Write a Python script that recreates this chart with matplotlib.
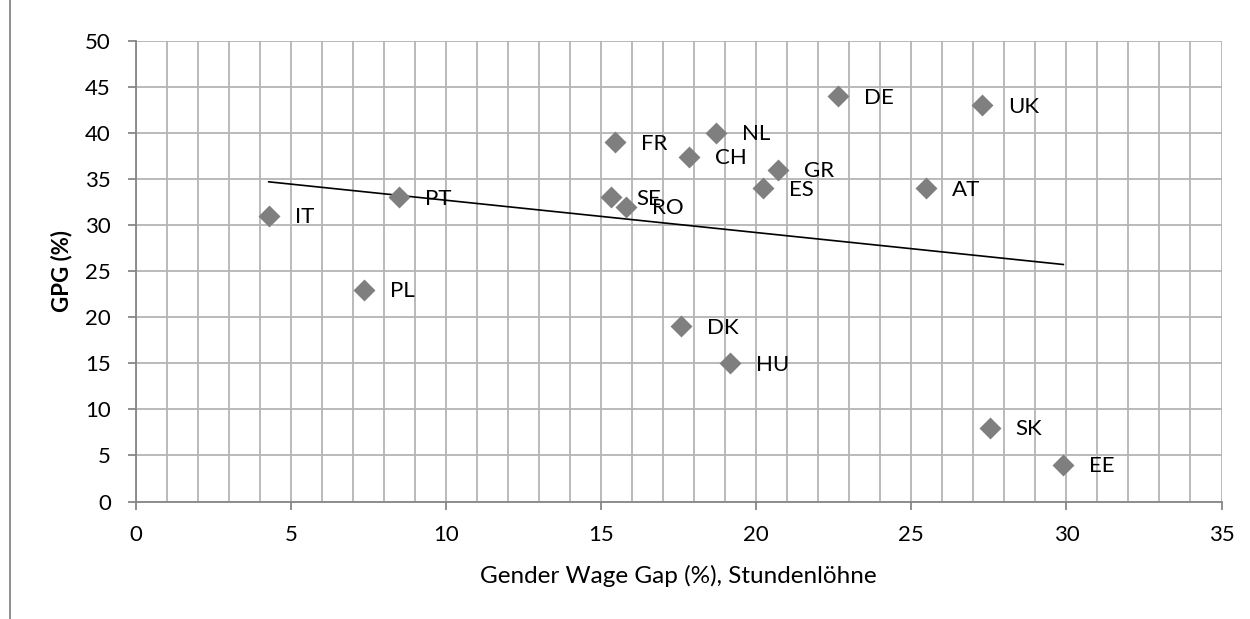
import numpy as np
import matplotlib
matplotlib.use("Agg")
import matplotlib.pyplot as plt
from matplotlib.patches import Rectangle

plt.rcParams['font.family'] = ['Lato', 'DejaVu Sans']

# data
countries = ['IT', 'PL', 'PT', 'SE', 'FR', 'RO', 'DK', 'CH', 'NL', 'HU',
             'ES', 'GR', 'DE', 'AT', 'UK', 'SK', 'EE']
wage_gap = [4.28, 7.34, 8.49, 15.3, 15.46, 15.79, 17.56, 17.82, 18.69, 19.14,
            20.21, 20.69, 22.63, 25.46, 27.29, 27.53, 29.9]
gpg = [31, 23, 33, 33, 39, 32, 19, 37.4, 40, 15,
       34, 36, 44, 34, 43, 8, 4]

grid_col = '#b4b4b4'
axis_col = '#868686'

fig = plt.figure(figsize=(12.5, 6.19), dpi=100)
ax = fig.add_axes([0.1088, 0.1898, 0.8684, 0.7444])

# outer chart-area border (cut off at right and bottom)
fig.patches.append(Rectangle((10 / 1250, -0.2), 1.2, 1.2 + (1 - 10.7 / 619),
                             transform=fig.transFigure, fill=False,
                             edgecolor=axis_col, linewidth=1.3))

ax.scatter(wage_gap, gpg, marker='D', s=125, color='#7f7f7f', zorder=3,
           linewidths=0)

for c, x, y in zip(countries, wage_gap, gpg):
    ax.annotate(c, (x, y), xytext=(18.7, -1.1), textcoords='offset points',
                ha='left', va='center', fontsize=16, color='black', zorder=4)

# linear trend line
k, d = np.polyfit(wage_gap, gpg, 1)
xs = np.array([min(wage_gap), max(wage_gap)])
ax.plot(xs, k * xs + d, color='black', linewidth=1.2, zorder=2)

ax.set_xlim(0, 35)
ax.set_ylim(0, 50)
ax.set_xticks(np.arange(0, 36, 5))
ax.set_xticks(np.arange(0, 36, 1), minor=True)
ax.set_yticks(np.arange(0, 51, 5))

ax.grid(True, which='major', axis='y', color=grid_col, linewidth=1.3)
ax.grid(True, which='both', axis='x', color=grid_col, linewidth=1.3)
ax.set_axisbelow(True)

for s in ['top', 'right']:
    ax.spines[s].set_visible(False)
for s in ['left', 'bottom']:
    ax.spines[s].set_color(axis_col)
    ax.spines[s].set_linewidth(1.3)

ax.tick_params(axis='both', which='major', length=6, width=1.3, color=axis_col,
               labelsize=16)
ax.tick_params(axis='y', pad=12)
ax.tick_params(axis='x', pad=11)
ax.tick_params(axis='x', which='minor', length=0)

ax.set_xlabel('Gender Wage Gap (%), Stundenlöhne', fontsize=17.5, labelpad=14)
ax.set_ylabel('GPG (%)', fontsize=16, fontweight='bold', labelpad=9)

fig.savefig('out.png', dpi=100)
